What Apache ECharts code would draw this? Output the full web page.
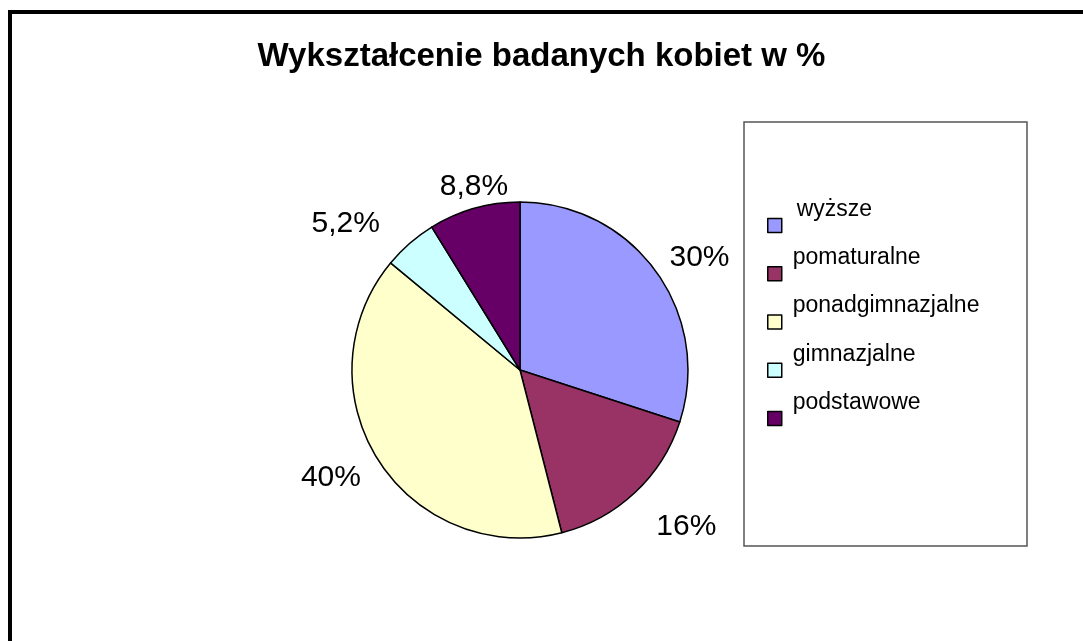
<!DOCTYPE html>
<html>
<head>
<meta charset="utf-8">
<script src="https://cdn.jsdelivr.net/npm/echarts@6/dist/echarts.min.js"></script>
<style>
  html, body { margin: 0; padding: 0; background: #fff; }
  #main { width: 1083px; height: 641px; }
</style>
</head>
<body>
<div id="main"></div>
<script>
// Wykształcenie badanych kobiet (%)
var categories = ['wyższe', 'pomaturalne', 'ponadgimnazjalne', 'gimnazjalne', 'podstawowe'];
var values = [30, 16, 40, 5.2, 8.8];
var colors = ['#9999ff', '#993366', '#ffffcc', '#ccffff', '#660066'];

// small hand nudges so labels sit where Excel put them
var labelNudge = [[-6, -3], [4, 21], [3, 8], [-13, -6], [44, -4]];

var FONT = '"Liberation Sans", Arial, sans-serif';

var chart = echarts.init(document.getElementById('main'));

var data = categories.map(function (name, i) {
    return { name: name, value: values[i], itemStyle: { color: colors[i] } };
});

var option = {
    backgroundColor: '#fff',
    animation: false,
    title: {
        text: 'Wykształcenie badanych kobiet w %',
        left: 'center',
        top: 35,
        textStyle: {
            fontFamily: FONT,
            fontSize: 33,
            fontWeight: 'bold',
            color: '#000'
        }
    },
    legend: {
        orient: 'vertical',
        left: 767,
        top: 198,
        padding: 0,
        itemGap: 13,
        itemWidth: 14,
        itemHeight: 14,
        icon: 'rect',
        selectedMode: false,
        itemStyle: { borderColor: '#000', borderWidth: 1.5 },
        formatter: function (name) {
            return (name === categories[0] ? '{b|' : '{a|') + name + '}';
        },
        textStyle: {
            fontFamily: FONT,
            fontSize: 23,
            color: '#000',
            rich: {
                a: { fontFamily: FONT, fontSize: 23, color: '#000', padding: [0, 0, 32, 6] },
                b: { fontFamily: FONT, fontSize: 23, color: '#000', padding: [0, 0, 32, 10] }
            }
        }
    },
    graphic: [
        {
            type: 'rect',
            shape: { x: 10, y: 12, width: 1200, height: 1000 },
            style: { fill: 'none', stroke: '#000', lineWidth: 4 },
            silent: true
        },
        {
            type: 'rect',
            shape: { x: 744, y: 122, width: 283, height: 424 },
            style: { fill: 'none', stroke: '#555', lineWidth: 1.5 },
            silent: true
        }
    ],
    series: [
        {
            type: 'pie',
            center: [520, 370],
            radius: 168,
            startAngle: 90,
            clockwise: true,
            avoidLabelOverlap: false,
            emphasis: { disabled: true },
            itemStyle: { borderColor: '#000', borderWidth: 1.5 },
            label: {
                show: true,
                position: 'outside',
                fontFamily: FONT,
                fontSize: 30,
                color: '#000',
                formatter: function (p) {
                    return String(p.value).replace('.', ',') + '%';
                }
            },
            labelLine: { show: false, length: 18, length2: 0 },
            labelLayout: function (p) {
                var n = labelNudge[p.dataIndex];
                return { dx: n[0], dy: n[1] };
            },
            data: data
        }
    ]
};

chart.setOption(option);
</script>
</body>
</html>
